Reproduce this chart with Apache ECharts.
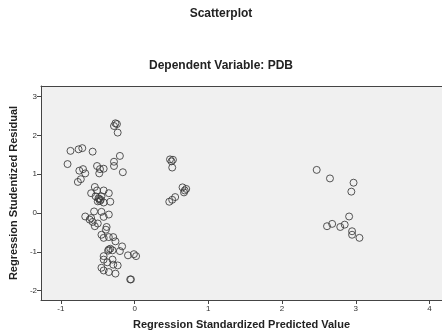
<!DOCTYPE html>
<html><head><meta charset="utf-8">
<script src="https://cdn.jsdelivr.net/npm/echarts@6/dist/echarts.min.js"></script>
<style>html,body{margin:0;padding:0;background:#fff}#c{width:442px;height:335px}</style>
</head><body><div id="c"></div>
<script>
const titleText = "Scatterplot";
const subtitleText = "Dependent Variable: PDB";
const xName = "Regression Standardized Predicted Value";
const yName = "Regression Studentized Residual";
const xTicks = [-1, 0, 1, 2, 3, 4];
const yTicks = [-2, -1, 0, 1, 2, 3];
const predicted = [
 -0.26,-0.28,-0.24,-0.23,-0.87,-0.76,-0.71,-0.57,-0.91,-0.20,-0.28,-0.28,-0.51,-0.47,-0.42,-0.48,-0.16,-0.75,-0.70,-0.67,-0.73,-0.77,
 -0.54,-0.59,-0.51,-0.42,-0.35,-0.53,-0.46,-0.42,-0.33,-0.50,-0.45,-0.48,-0.47,-0.49,
 -0.55,-0.45,-0.35,-0.42,-0.67,-0.61,-0.59,-0.57,-0.54,-0.50,-0.39,-0.38,-0.45,-0.42,-0.35,-0.29,-0.26,
 -0.35,-0.33,-0.36,-0.30,-0.20,-0.17,-0.09,-0.01,0.02,-0.42,-0.42,-0.37,-0.30,-0.29,-0.23,-0.45,-0.42,-0.35,-0.26,-0.06,-0.05,
 0.48,0.52,0.51,0.50,0.65,0.70,0.67,0.68,0.47,0.51,0.55,
 2.47,2.65,2.97,2.94,2.91,2.61,2.68,2.79,2.85,2.95,2.95,3.05
];
const residual = [
 2.31,2.24,2.29,2.07,1.60,1.64,1.67,1.58,1.26,1.47,1.32,1.21,1.21,1.13,1.14,1.02,1.05,1.09,1.13,1.02,0.87,0.80,
 0.67,0.51,0.58,0.58,0.51,0.43,0.34,0.27,0.29,0.30,0.43,0.36,0.31,0.38,
 0.04,0.03,-0.04,-0.10,-0.09,-0.17,-0.13,-0.23,-0.34,-0.27,-0.43,-0.36,-0.56,-0.64,-0.62,-0.62,-0.73,
 -0.94,-0.92,-0.97,-0.96,-0.98,-0.86,-1.09,-1.06,-1.11,-1.11,-1.20,-1.27,-1.20,-1.33,-1.35,-1.41,-1.48,-1.52,-1.56,-1.71,-1.71,
 1.38,1.37,1.17,1.33,0.66,0.62,0.53,0.58,0.29,0.34,0.41,
 1.11,0.89,0.78,0.55,-0.09,-0.34,-0.28,-0.36,-0.30,-0.47,-0.56,-0.64
];
const points = predicted.map((v, i) => [v, residual[i]]);
const font = "'Liberation Sans', Arial, sans-serif";
const chart = echarts.init(document.getElementById('c'));
chart.setOption({
  animation: false,
  backgroundColor: '#ffffff',
  title: [
    {text: titleText, left: 'center', top: 3, textStyle: {fontFamily: font, fontSize: 12, fontWeight: 'bold', color: '#222'}},
    {text: subtitleText, left: 'center', top: 55, textStyle: {fontFamily: font, fontSize: 12, fontWeight: 'bold', color: '#222'}}
  ],
  grid: {left: 40, right: 0, top: 86, bottom: 34, show: true, backgroundColor: '#F0F0F0', borderWidth: 0},
  xAxis: [{
    type: 'value', min: -1.27, max: 4.17,
    name: xName, nameLocation: 'middle', nameGap: 19,
    nameTextStyle: {fontFamily: font, fontSize: 11, fontWeight: 'bold', color: '#222'},
    axisLine: {show: true, onZero: false, lineStyle: {color: '#444', width: 1}},
    axisTick: {show: true, length: 4, customValues: xTicks, lineStyle: {color: '#444'}},
    axisLabel: {customValues: xTicks, fontFamily: font, fontSize: 8, color: '#333', margin: 5},
    splitLine: {show: false}
  }, {
    type: 'value', position: 'top', min: -1.27, max: 4.17,
    axisLine: {show: true, onZero: false, lineStyle: {color: '#444', width: 1}},
    axisTick: {show: false}, axisLabel: {show: false}, splitLine: {show: false}
  }],
  yAxis: {
    type: 'value', min: -2.24, max: 3.27,
    name: yName, nameLocation: 'middle', nameGap: 13,
    nameTextStyle: {fontFamily: font, fontSize: 11, fontWeight: 'bold', color: '#222'},
    axisLine: {show: true, onZero: false, lineStyle: {color: '#444', width: 1}},
    axisTick: {show: true, length: 4, customValues: yTicks, lineStyle: {color: '#444'}},
    axisLabel: {customValues: yTicks, fontFamily: font, fontSize: 8, color: '#333', margin: 4},
    splitLine: {show: false}
  },
  series: [{
    type: 'scatter', data: points, symbol: 'circle', symbolSize: 7,
    itemStyle: {color: 'rgba(0,0,0,0)', borderColor: '#3a3a3a', borderWidth: 1, opacity: 0.85}
  }]
});
</script></body></html>
